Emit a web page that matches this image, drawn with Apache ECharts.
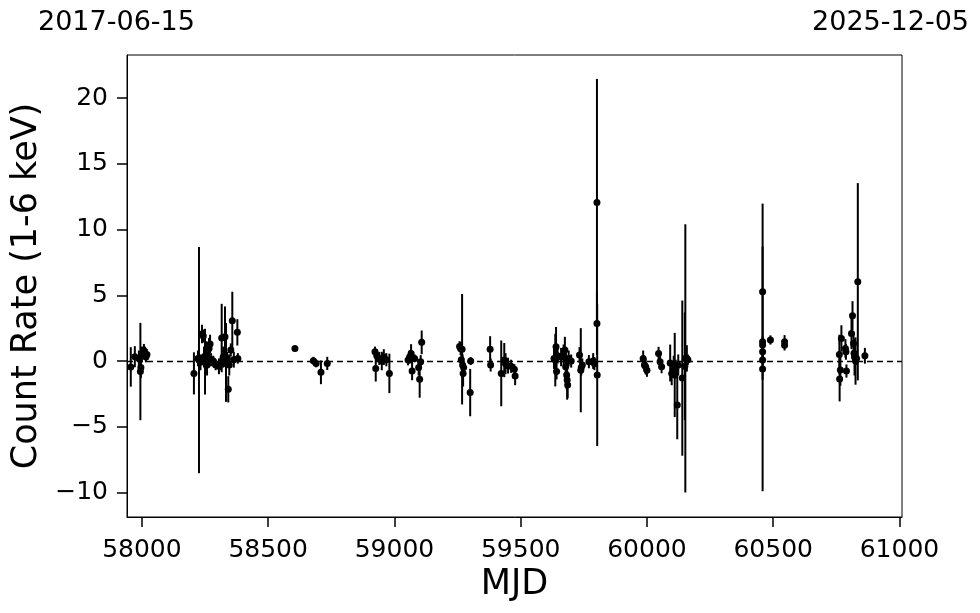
<!DOCTYPE html>
<html>
<head>
<meta charset="utf-8">
<script src="https://cdn.jsdelivr.net/npm/echarts@6/dist/echarts.min.js"></script>
<style>
    html, body { margin: 0; padding: 0; background: #fff; }
    #lc { width: 980px; height: 613px; }
</style>
</head>
<body>
<div id="lc"></div>
<script>
// light curve points
const mjd = [
    57956, 57972, 57988, 57994, 57996, 58000, 58008, 58012, 58016, 58020,
    58206, 58222, 58226, 58232, 58238, 58243, 58246, 58250, 58254, 58258,
    58266, 58270, 58274, 58283, 58292, 58305, 58312, 58316, 58322, 58329,
    58333, 58338, 58342, 58346, 58352, 58358, 58364, 58378, 58380,
    58606, 58679, 58690, 58709, 58734,
    58923, 58926, 58930, 58940, 58950, 58958, 58968, 58980,
    59054, 59060, 59066, 59070, 59080, 59096, 59100, 59104, 59108,
    59258, 59262, 59265, 59268, 59270, 59272, 59274, 59300, 59302,
    59379, 59381, 59423, 59435, 59440, 59450, 59462, 59475, 59478,
    59632, 59637, 59640, 59642, 59646, 59660, 59670, 59675, 59678, 59682,
    59684, 59686, 59690, 59700, 59733, 59738, 59740, 59744, 59770, 59787,
    59792, 59802, 59802, 59803,
    59985, 59990, 59995, 60000, 60046, 60052, 60058, 60092, 60098, 60106,
    60110, 60114, 60120, 60124, 60140, 60150, 60152, 60158, 60162,
    60458, 60458, 60458, 60458, 60458, 60458, 60489, 60545, 60545,
    60762, 60763, 60766, 60770, 60786, 60788, 60790, 60810, 60814, 60818,
    60820, 60822, 60826, 60835, 60830, 60863
];
const rate = [
    -0.45, 0.33, 0.2, -0.8, -0.5, 0.5, 0.8, 0.6, 0.3, 0.5,
    -0.94, 0.2, 0.07, -0.1, 2.05, 1.9, 0.3, -0.05, 0.5, -0.3,
    0.96, 1.3, 0.1, 0.0, -0.3, -0.4, -0.2, 1.75, 0.3, 1.85,
    -0.1, 0.2, -2.15, -0.3, 0.84, 3.07, 0.1, 2.18, 0.2,
    0.96, 0.02, -0.18, -0.86, -0.18,
    0.7, -0.56, 0.4, 0.2, 0.0, 0.3, 0.1, -0.94,
    0.07, 0.3, 0.58, -0.76, 0.2, -0.5, -1.39, -0.05, 1.42,
    1.1, 0.96, 0.1, 0.9, -0.3, -0.94, -0.5, -2.4, 0.0,
    0.89, -0.3, -0.94, 0.07, -0.2, -0.35, -0.4, -0.63, -1.14,
    0.2, 0.07, 1.09, -0.8, 0.4, 0.3, 0.46, 0.84, -0.43, -1.06,
    -1.44, -1.82, 0.2, 0.0, 0.46, -0.7, -0.5, -0.3, -0.05, 0.0,
    -0.2, 12.05, 2.85, -1.06,
    0.2, -0.3, -0.43, -0.7, 0.58, -0.05, -0.43, -0.15, -0.94, -0.4,
    -1.06, -0.6, -3.35, -0.3, -1.3, -0.4, 0.2, 0.2, 0.1,
    5.27, 1.47, 1.22, 0.7, 0.07, -0.6, 1.6, 1.47, 1.2,
    0.5, -1.37, -0.68, 1.72, 0.96, 0.7, -0.76, 2.1, 3.45, 1.34,
    0.6, 0.3, 0.0, 6.03, 0.2, 0.4
];
const rateErr = [
    1.5, 0.8, 0.6, 3.7, 0.8, 0.6, 0.5, 0.5, 0.4, 0.4,
    1.6, 0.6, 8.6, 0.6, 0.7, 0.5, 0.8, 2.5, 1.0, 0.8,
    0.8, 0.7, 0.5, 0.4, 0.4, 0.6, 0.5, 2.6, 0.8, 2.3,
    3.0, 0.5, 1.0, 0.8, 0.5, 2.2, 0.6, 1.0, 0.4,
    0.1, 0.3, 0.3, 0.9, 0.5,
    0.4, 1.0, 0.5, 0.5, 0.7, 0.6, 0.5, 1.5,
    0.4, 0.5, 0.7, 0.7, 0.3, 0.6, 1.4, 0.5, 0.9,
    0.4, 0.5, 0.6, 4.2, 0.8, 1.0, 0.5, 1.8, 0.3,
    1.0, 0.5, 2.5, 1.3, 0.8, 0.6, 0.5, 0.4, 0.7,
    0.8, 2.0, 1.5, 0.6, 0.6, 0.7, 0.8, 1.0, 0.8, 1.1,
    1.5, 1.0, 0.6, 0.5, 0.6, 3.2, 0.6, 0.5, 0.5, 0.6,
    0.5, 9.4, 2.4, 5.4,
    0.6, 0.5, 0.6, 0.5, 0.5, 0.5, 0.5, 1.4, 0.9, 0.8,
    3.2, 0.7, 2.6, 0.8, 5.9, 4.1, 10.2, 1.0, 0.4,
    6.7, 0.4, 0.4, 0.4, 0.4, 9.3, 0.35, 0.5, 0.4,
    1.5, 1.7, 1.2, 1.0, 0.7, 0.6, 0.5, 1.2, 1.1, 0.8,
    0.8, 1.4, 1.8, 7.5, 0.5, 0.6
];
const xTicks = [58000, 58500, 59000, 59500, 60000, 60500, 61000];
const yTicks = [-10, -5, 0, 5, 10, 15, 20];
const startDate = '2017-06-15';
const endDate = '2025-12-05';

const font = 'DejaVu Sans';
const points = mjd.map((m, i) => [m, rate[i], rateErr[i]]);

let myChart = echarts.init(document.getElementById('lc'));

myChart.setOption({
    animation: false,
    backgroundColor: '#fff',
    graphic: [
        {
            type: 'text', left: 38, top: 9,
            style: { text: startDate, font: '27px "DejaVu Sans"', fill: '#000' }
        },
        {
            type: 'text', right: 11, top: 9,
            style: { text: endDate, font: '27px "DejaVu Sans"', fill: '#000' }
        }
    ],
    grid: {
        left: 127,
        right: 78,
        top: 55,
        bottom: 96,
        show: true,
        borderColor: '#000',
        borderWidth: 1
    },
    xAxis: {
        type: 'value',
        min: 57941,
        max: 61010,
        name: 'MJD',
        nameLocation: 'middle',
        nameGap: 50,
        nameTextStyle: { fontFamily: font, fontSize: 35, color: '#000' },
        axisLine: { onZero: false, lineStyle: { color: '#000', width: 1 } },
        axisTick: { show: true, length: 10, customValues: xTicks, lineStyle: { color: '#000', width: 1.5 } },
        axisLabel: {
            customValues: xTicks, margin: 21, fontFamily: font, fontSize: 25, color: '#000',
            formatter: v => String(v)
        },
        splitLine: { show: false }
    },
    yAxis: {
        type: 'value',
        min: -11.86,
        max: 23.27,
        name: 'Count Rate (1-6 keV)',
        nameLocation: 'middle',
        nameGap: 68,
        nameTextStyle: { fontFamily: font, fontSize: 35, color: '#000' },
        axisLine: { onZero: false, lineStyle: { color: '#000', width: 1 } },
        axisTick: { show: true, length: 10, customValues: yTicks, lineStyle: { color: '#000', width: 1.5 } },
        axisLabel: {
            customValues: yTicks, margin: 19, fontFamily: font, fontSize: 25, color: '#000',
            formatter: v => (v < 0 ? '\u2212' + Math.abs(v) : String(v))
        },
        splitLine: { show: false }
    },
    series: [
        {
            // error bars
            type: 'custom',
            data: points,
            encode: { x: 0, y: 1 },
            z: 2,
            renderItem: function (params, api) {
                const x = api.value(0), y = api.value(1), e = api.value(2);
                const lo = api.coord([x, y - e]);
                const hi = api.coord([x, y + e]);
                return {
                    type: 'line',
                    shape: { x1: lo[0], y1: lo[1], x2: hi[0], y2: hi[1] },
                    style: { stroke: '#000', lineWidth: 2 }
                };
            }
        },
        {
            type: 'scatter',
            data: points,
            symbolSize: 7,
            z: 3,
            itemStyle: { color: '#000', opacity: 1 },
            emphasis: { disabled: true },
            markLine: {
                silent: true,
                symbol: 'none',
                label: { show: false },
                lineStyle: { color: '#000', type: [6, 4], width: 1.3 },
                data: [{ yAxis: 0 }]
            }
        }
    ]
});
</script>
</body>
</html>
